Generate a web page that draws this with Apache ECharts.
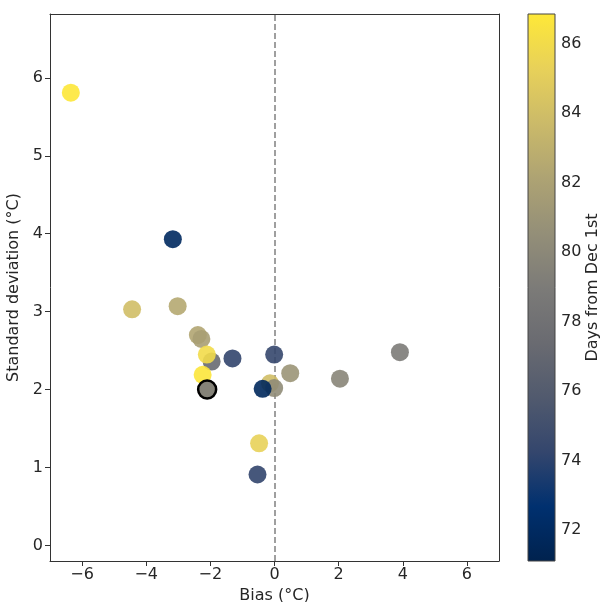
<!DOCTYPE html>
<html>
<head>
<meta charset="utf-8">
<script src="https://cdn.jsdelivr.net/npm/echarts@6/dist/echarts.min.js"></script>
<style>html,body{margin:0;padding:0;background:#fff;}#c{width:600px;height:602px;}</style>
</head>
<body>
<div id="c"></div>
<script>
// Data
var bias  = [-6.35, -3.17, -4.44, -3.02, -2.39, -2.28, -1.96, -2.11, -1.31, -2.24, -0.01, 0.49, -0.14, -0.01, -0.37, 2.04, 3.91, -0.48, -0.53];
var stdev = [ 5.81,  3.93,  3.03,  3.07,  2.70,  2.65,  2.36,  2.45,  2.40,  2.19,  2.45, 2.21,  2.08,  2.02,  2.01, 2.14, 2.48,  1.31,  0.91];
var days  = [ 86.8,  71.9,  84.0,  82.5,  82.3,  81.8,  77.3,  86.0,  74.2,  86.7,  74.3, 81.0,  84.0,  80.3,  71.8, 79.8, 79.0,  85.3,  74.2];
var highlightBias = [-2.10];
var highlightStd  = [2.00];
var highlightDays = [79.5];
var xTicks = [-6, -4, -2, 0, 2, 4, 6];
var yTicks = [0, 1, 2, 3, 4, 5, 6];
var cbTicks = [72, 74, 76, 78, 80, 82, 84, 86];
var cbMin = 71.11, cbMax = 86.86;

var cividis = ['#00224e', '#00306f', '#34466d', '#515a6e', '#6a6b71', '#7c7b78', '#948f78', '#aea373', '#cbba69', '#e8d159', '#fee838'];

var pts = bias.map(function (b, i) { return [b, stdev[i], days[i]]; });
var hpts = highlightBias.map(function (b, i) { return [b, highlightStd[i], highlightDays[i]]; });

var font = 'DejaVu Sans';
var txt = '#262626';
var axisCol = '#333';
var fs = 16;

var chart = echarts.init(document.getElementById('c'), null, {renderer: 'canvas'});
chart.setOption({
  animation: false,
  textStyle: {fontFamily: font},
  grid: [
    {left: 50, right: 101, top: 14, bottom: 41, outerBoundsMode: 'none', containLabel: false},
    {left: 528, width: 27, top: 14, bottom: 41, outerBoundsMode: 'none', containLabel: false}
  ],
  xAxis: [
    {
      type: 'value', gridIndex: 0, min: -7, max: 7,
      name: 'Bias (°C)', nameLocation: 'middle', nameGap: 24,
      nameTextStyle: {fontSize: fs, color: txt, fontFamily: font},
      axisLine: {show: true, onZero: false, lineStyle: {color: axisCol, width: 1}},
      axisTick: {show: true, length: 5, lineStyle: {color: axisCol}, customValues: xTicks},
      axisLabel: {fontSize: fs, color: txt, margin: 6, fontFamily: font, customValues: xTicks,
        formatter: function (v) { return v < 0 ? '\u2212' + Math.abs(v) : String(v); }},
      splitLine: {show: false}
    },
    {
      type: 'value', gridIndex: 1, min: 0, max: 1, show: false
    },
    {type: 'value', gridIndex: 0, position: 'top', min: -7, max: 7,
      axisLine: {show: true, onZero: false, lineStyle: {color: axisCol}}, axisTick: {show: false}, axisLabel: {show: false}, splitLine: {show: false}}
  ],
  yAxis: [
    {
      type: 'value', gridIndex: 0, min: -0.2, max: 6.82,
      name: 'Standard deviation (°C)', nameLocation: 'middle', nameGap: 25, nameRotate: 90,
      nameTextStyle: {fontSize: fs, color: txt, fontFamily: font},
      axisLine: {show: true, onZero: false, lineStyle: {color: axisCol, width: 1}},
      axisTick: {show: true, length: 5, lineStyle: {color: axisCol}, customValues: yTicks},
      axisLabel: {fontSize: fs, color: txt, margin: 7, fontFamily: font, customValues: yTicks},
      splitLine: {show: false}
    },
    {
      type: 'value', gridIndex: 1, min: cbMin, max: cbMax, position: 'right',
      name: 'Days from Dec 1st', nameLocation: 'middle', nameGap: 29, nameRotate: 90,
      nameTextStyle: {fontSize: fs, color: txt, fontFamily: font},
      axisLine: {show: false},
      axisTick: {show: true, length: 5, lineStyle: {color: axisCol}, customValues: cbTicks},
      axisLabel: {fontSize: fs, color: txt, margin: 6, fontFamily: font, customValues: cbTicks},
      splitLine: {show: false}
    },
    {type: 'value', gridIndex: 0, position: 'right', min: -0.2, max: 6.82,
      axisLine: {show: true, onZero: false, lineStyle: {color: axisCol}}, axisTick: {show: false}, axisLabel: {show: false}, splitLine: {show: false}}
  ],
  visualMap: {
    show: false, type: 'continuous', seriesIndex: [0, 1], dimension: 2,
    min: cbMin, max: cbMax, inRange: {color: cividis}
  },
  series: [
    {
      type: 'scatter', xAxisIndex: 0, yAxisIndex: 0, data: pts, symbolSize: 18,
      itemStyle: {opacity: 0.9},
      markLine: {
        silent: true, symbol: 'none', label: {show: false}, z: 1,
        lineStyle: {color: '#808080', type: [6, 3], width: 1.5},
        data: [{xAxis: 0}]
      },
      z: 2
    },
    {
      type: 'scatter', xAxisIndex: 0, yAxisIndex: 0, data: hpts, symbolSize: 18,
      itemStyle: {opacity: 1, borderColor: '#000', borderWidth: 2.5},
      z: 3
    },
    {
      type: 'custom', xAxisIndex: 1, yAxisIndex: 1,
      data: [[0, cbMin, 1, cbMax]],
      renderItem: function (params, api) {
        var p1 = api.coord([api.value(0), api.value(3)]);
        var p2 = api.coord([api.value(2), api.value(1)]);
        var stops = cividis.map(function (c, i) { return {offset: i / (cividis.length - 1), color: c}; });
        return {
          type: 'rect',
          shape: {x: p1[0], y: p1[1], width: p2[0] - p1[0], height: p2[1] - p1[1]},
          style: {fill: new echarts.graphic.LinearGradient(0, 1, 0, 0, stops), stroke: '#444', lineWidth: 1}
        };
      }
    }
  ]
});
</script>
</body>
</html>
